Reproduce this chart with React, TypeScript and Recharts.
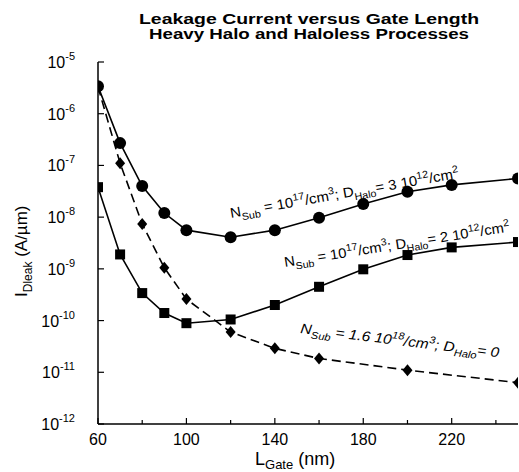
import React from 'react';
import { LineChart, Line, XAxis, YAxis, Customized } from 'recharts';

const xHalo3 = [60, 70, 80, 90, 100, 120, 140, 160, 180, 200, 220, 250];
const leakHalo3 = [3.4e-6, 2.7e-7, 4.0e-8, 1.2e-8, 5.6e-9, 4.1e-9, 5.6e-9, 9.7e-9, 1.8e-8, 3.1e-8, 4.2e-8, 5.6e-8];

const xHalo2 = [60, 70, 80, 90, 100, 120, 140, 160, 180, 200, 220, 250];
const leakHalo2 = [3.8e-8, 1.9e-9, 3.4e-10, 1.4e-10, 8.9e-11, 1.05e-10, 2.0e-10, 4.5e-10, 9.8e-10, 1.85e-9, 2.6e-9, 3.3e-9];

const xHaloless = [60, 70, 80, 90, 100, 120, 140, 160, 200, 250];
const leakHaloless = [3.3e-6, 1.1e-7, 7.4e-9, 1.05e-9, 2.6e-10, 6.0e-11, 2.9e-11, 1.85e-11, 1.1e-11, 6.3e-12];

const xTicks = [60, 80, 100, 120, 140, 160, 180, 200, 220, 240];
const xTickLabels = [60, 100, 140, 180, 220];
const yTicks = [1e-12, 1e-11, 1e-10, 1e-9, 1e-8, 1e-7, 1e-6, 1e-5];

const titleLines = ['Leakage Current versus Gate Length', 'Heavy Halo and Haloless Processes'];

const zip = (xs: number[], ys: number[]) => xs.map((x, i) => ({ x, y: ys[i] }));
const dataHalo3 = zip(xHalo3, leakHalo3);
const dataHalo2 = zip(xHalo2, leakHalo2);
const dataHaloless = zip(xHaloless, leakHaloless);

const FONT = '"Liberation Sans", Arial, Helvetica, sans-serif';

type Part = { t: string; k?: 'sup' | 'sub' };

const RichText = ({ x, y, angle, parts, fontSize, small, italic, length }: any) => {
  let cur = 0;
  const spans = (parts as Part[]).map((p, i) => {
    const target = p.k === 'sup' ? -fontSize * 0.42 : p.k === 'sub' ? fontSize * 0.3 : 0;
    const dy = target - cur;
    cur = target;
    return (
      <tspan key={i} dy={dy} fontSize={p.k ? small : fontSize}>
        {p.t}
      </tspan>
    );
  });
  return (
    <text
      x={x}
      y={y}
      transform={`rotate(${angle}, ${x}, ${y})`}
      fontFamily={FONT}
      fontSize={fontSize}
      fontStyle={italic ? 'italic' : 'normal'}
      fill="#000"
      textLength={length}
      lengthAdjust="spacingAndGlyphs"
    >
      {spans}
    </text>
  );
};

const label1: Part[] = [
  { t: 'N' }, { t: 'Sub', k: 'sub' }, { t: ' = 10' }, { t: '17', k: 'sup' }, { t: '/cm' }, { t: '3', k: 'sup' },
  { t: '; D' }, { t: 'Halo', k: 'sub' }, { t: '= 3 10' }, { t: '12', k: 'sup' }, { t: '/cm' }, { t: '2', k: 'sup' },
];
const label2: Part[] = [
  { t: 'N' }, { t: 'Sub', k: 'sub' }, { t: ' = 10' }, { t: '17', k: 'sup' }, { t: '/cm' }, { t: '3', k: 'sup' },
  { t: '; D' }, { t: 'Halo', k: 'sub' }, { t: '= 2 10' }, { t: '12', k: 'sup' }, { t: '/cm' }, { t: '2', k: 'sup' },
];
const label3: Part[] = [
  { t: 'N' }, { t: 'Sub', k: 'sub' }, { t: ' = 1.6 10' }, { t: '18', k: 'sup' }, { t: '/cm' }, { t: '3', k: 'sup' },
  { t: '; D' }, { t: 'Halo', k: 'sub' }, { t: '= 0' },
];

const Overlay = () => (
  <g>
    {titleLines.map((t, i) => (
      <text
        key={i}
        x={309}
        y={24 + i * 15}
        textAnchor="middle"
        fontFamily={FONT}
        fontWeight="bold"
        fontSize={14.5}
        textLength={i === 0 ? 340 : 320}
        lengthAdjust="spacingAndGlyphs"
        fill="#000"
      >
        {t}
      </text>
    ))}
    <RichText x={231} y={218} angle={-10} parts={label1} fontSize={14} small={10} length={232} />
    <RichText x={285} y={267} angle={-9} parts={label2} fontSize={14} small={10} length={228} />
    <RichText x={300} y={333} angle={7} parts={label3} fontSize={14} small={10} italic length={200} />
    <text
      x={0}
      y={0}
      transform="translate(27, 297) rotate(-90)"
      fontFamily={FONT}
      fontSize={17}
      fill="#000"
    >
      <tspan>I</tspan>
      <tspan dy={5} fontSize={12}>Dleak</tspan>
      <tspan dy={-5}>{'  (A/\u00b5m)'}</tspan>
    </text>
    <text x={255} y={465} fontFamily={FONT} fontSize={18} fill="#000">
      <tspan>L</tspan>
      <tspan dy={4} fontSize={13}>Gate</tspan>
      <tspan dy={-4}>{' (nm)'}</tspan>
    </text>
  </g>
);

const BottomTick = ({ x, y, payload }: any) => {
  const v = payload.value;
  const major = xTickLabels.includes(v);
  return (
    <g>
      <line x1={x} x2={x} y1={y} y2={y - (major ? 6 : 4)} stroke="#000" strokeWidth={1.2} />
      {major && (
        <text x={x} y={y + 21} textAnchor="middle" fontFamily={FONT} fontSize={16} fill="#000">
          {v}
        </text>
      )}
    </g>
  );
};

const TopTick = ({ x, y, payload }: any) => {
  const major = xTickLabels.includes(payload.value);
  return <line x1={x} x2={x} y1={y} y2={y + (major ? 6 : 4)} stroke="#000" strokeWidth={1.2} />;
};

const LeftTick = ({ x, y, payload }: any) => {
  const n = Math.round(Math.log10(payload.value));
  return (
    <g>
      <line x1={x} x2={x + 6} y1={y} y2={y} stroke="#000" strokeWidth={1.2} />
      <text x={x - 23} y={y + 6} textAnchor="end" fontFamily={FONT} fontSize={16} fill="#000">
        <tspan>10</tspan>
        <tspan dy={-8} fontSize={11}>{`-${Math.abs(n)}`}</tspan>
      </text>
    </g>
  );
};

const RightTick = ({ x, y }: any) => (
  <line x1={x} x2={x - 6} y1={y} y2={y} stroke="#000" strokeWidth={1.2} />
);

const CircleDot = ({ cx, cy, index }: any) =>
  cx == null ? null : <circle key={`c${index}`} cx={cx} cy={cy} r={6} fill="#000" />;
const SquareDot = ({ cx, cy, index }: any) =>
  cx == null ? null : <rect key={`s${index}`} x={cx - 5} y={cy - 5} width={10} height={10} fill="#000" />;
const DiamondDot = ({ cx, cy, index }: any) =>
  cx == null ? null : (
    <polygon
      key={`d${index}`}
      points={`${cx},${cy - 6} ${cx + 5},${cy} ${cx},${cy + 6} ${cx - 5},${cy}`}
      fill="#000"
    />
  );

export default function App() {
  const axisLine = { stroke: '#000', strokeWidth: 1.5 };
  return (
    <div style={{ position: 'absolute', left: 0, top: 0, width: 519, height: 472, background: '#fff' }}>
      <LineChart width={519} height={472} margin={{ top: 62, right: 1, left: 8, bottom: 0 }}>
        <XAxis
          xAxisId="bottom"
          type="number"
          dataKey="x"
          domain={[60, 250]}
          allowDataOverflow
          ticks={xTicks}
          interval={0}
          tickSize={0}
          tickMargin={0}
          tickLine={false}
          axisLine={axisLine}
          tick={<BottomTick />}
          height={48}
          orientation="bottom"
        />
        <XAxis
          xAxisId="top"
          type="number"
          dataKey="x"
          domain={[60, 250]}
          allowDataOverflow
          ticks={xTicks}
          interval={0}
          tickSize={0}
          tickMargin={0}
          tickLine={false}
          axisLine={axisLine}
          tick={<TopTick />}
          height={0}
          orientation="top"
        />
        <YAxis
          yAxisId="left"
          scale="log"
          domain={[1e-12, 1e-5]}
          allowDataOverflow
          ticks={yTicks}
          interval={0}
          tickSize={0}
          tickMargin={0}
          tickLine={false}
          axisLine={axisLine}
          tick={<LeftTick />}
          width={90}
          orientation="left"
        />
        <YAxis
          yAxisId="right"
          scale="log"
          domain={[1e-12, 1e-5]}
          allowDataOverflow
          ticks={yTicks}
          interval={0}
          tickSize={0}
          tickMargin={0}
          tickLine={false}
          axisLine={axisLine}
          tick={<RightTick />}
          width={0}
          orientation="right"
        />
        <Line
          data={dataHalo3}
          dataKey="y"
          xAxisId="bottom"
          yAxisId="left"
          stroke="#000"
          strokeWidth={1.6}
          dot={<CircleDot />}
          isAnimationActive={false}
        />
        <Line
          data={dataHalo2}
          dataKey="y"
          xAxisId="bottom"
          yAxisId="left"
          stroke="#000"
          strokeWidth={1.6}
          dot={<SquareDot />}
          isAnimationActive={false}
        />
        <Line
          data={dataHaloless}
          dataKey="y"
          xAxisId="bottom"
          yAxisId="left"
          stroke="#000"
          strokeWidth={1.6}
          strokeDasharray="9 5"
          dot={<DiamondDot />}
          isAnimationActive={false}
        />
        <Customized component={Overlay} />
      </LineChart>
    </div>
  );
}
